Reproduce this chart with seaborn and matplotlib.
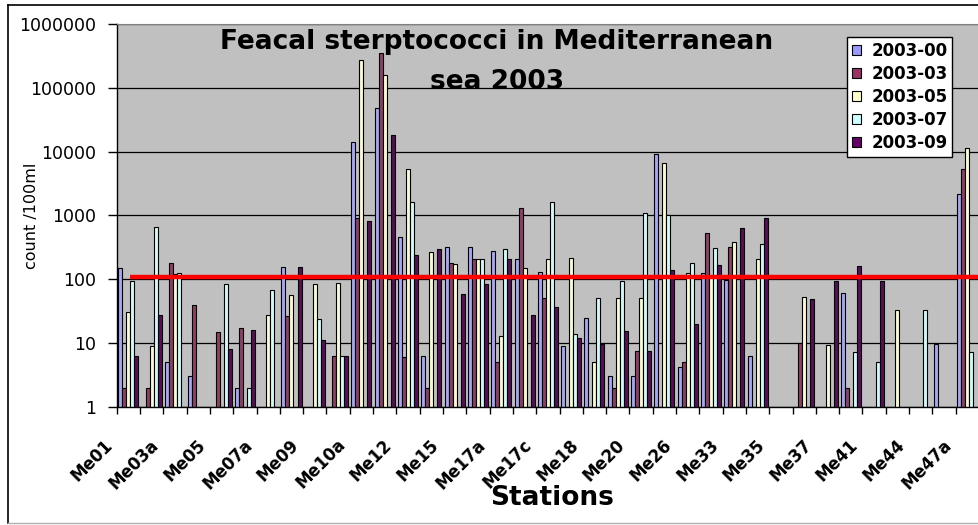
import numpy as np
import pandas as pd
import matplotlib
matplotlib.use('Agg')
import matplotlib.pyplot as plt
import matplotlib.transforms as mtransforms
from matplotlib.lines import Line2D
from matplotlib.patches import Patch
from matplotlib.ticker import NullLocator
import seaborn as sns

nan = np.nan

# Stations (only every other one is labelled on the axis)
stations = ['Me01', 'Me02', 'Me03a', 'Me04', 'Me05', 'Me06', 'Me07a', 'Me08', 'Me09', 'Me10',
            'Me10a', 'Me11', 'Me12', 'Me14', 'Me15', 'Me16', 'Me17a', 'Me17b', 'Me17c', 'Me17d',
            'Me18', 'Me19', 'Me20', 'Me25', 'Me26', 'Me31', 'Me33', 'Me34', 'Me35', 'Me36',
            'Me37', 'Me40', 'Me41', 'Me43', 'Me44', 'Me47', 'Me47a']

# counts /100ml per sampling campaign
s_00 = [150, nan, 5, 3, nan, 2, nan, 155, nan, nan,
        14000, 48000, 450, 6.2, 320, 320, 280, 205, 130, 9,
        25, 3, 3, 9300, 4.2, 123, 97, 6.3, nan, nan,
        nan, 61, nan, nan, nan, 9.5, 2150]
s_03 = [2, 2, 180, 40, 15, 17, nan, 26, nan, 6.3,
        900, 350000, 6, 2, 180, 205, 5, 1300, 50, nan,
        nan, 2, 7.4, nan, 5, 520, 320, nan, nan, 10,
        nan, 2, nan, nan, nan, nan, 5300]
s_05 = [30, 9, 120, nan, nan, nan, 27, 57, 83, 88,
        270000, 160000, 5400, 265, 170, 205, 13, 150, 210, 215,
        5, 50, 50, 6700, 125, 110, 385, 205, nan, 53,
        9.3, nan, nan, 33, nan, nan, 11500]
s_07 = [95, 650, 125, nan, 85, 2, 68, nan, 24, 6.3,
        nan, nan, 1600, nan, nan, 205, 300, nan, 1600, 14,
        50, 94, 1100, 1000, 180, 310, nan, 355, nan, nan,
        nan, 7.2, 5, nan, 33, nan, 7.3]
s_09 = [6.3, 27, nan, nan, 8, 16, nan, 155, 11, 6.3,
        820, 18000, 240, 300, 58, 83, 210, 27, 36, 12,
        9.5, 15.5, 7.5, 140, 20, 165, 640, 900, nan, 49,
        94, 162, 94, nan, nan, nan, nan]

months = ['2003-00', '2003-03', '2003-05', '2003-07', '2003-09']
colors = ['#9999FF', '#993366', '#FFFFCC', '#CCFFFF', '#660066']
threshold = 110

df = pd.DataFrame({'Station': stations, months[0]: s_00, months[1]: s_03,
                   months[2]: s_05, months[3]: s_07, months[4]: s_09})
long_df = df.melt(id_vars='Station', var_name='Month', value_name='Count').dropna()

fig = plt.figure(figsize=(9.79, 5.25), dpi=100)
ax = fig.add_axes([0.1192, 0.2253, 0.8808, 0.729])
ax.set_facecolor('#C0C0C0')

sns.barplot(data=long_df, x='Station', y='Count', hue='Month', order=stations,
            hue_order=months, palette=colors, width=0.86, gap=0, errorbar=None,
            edgecolor='black', linewidth=0.8, log_scale=True, ax=ax, zorder=2)

n = len(stations)
ax.set_yscale('log')
ax.set_ylim(1, 1e6)
ax.set_xlim(-0.5, 36.13)

# y axis
yt = [1, 10, 100, 1000, 10000, 100000, 1000000]
ax.set_yticks(yt, [str(v) for v in yt])
ax.yaxis.set_minor_locator(NullLocator())
ax.tick_params(axis='y', length=6.5, width=1, pad=8, labelsize=12.5, color='black')
ax.yaxis.grid(True, color='black', lw=0.9, zorder=1)
ax.xaxis.grid(False)
ax.set_axisbelow(True)

# x axis: ticks between categories, labels on every other station
ax.set_xticks(np.arange(0, n, 2), [stations[i] for i in range(0, n, 2)])
ax.set_xticks(np.arange(-0.5, n, 1), minor=True)
ax.tick_params(axis='x', which='major', length=0, pad=0)
ax.tick_params(axis='x', which='minor', length=5, width=1, direction='out')
offset = mtransforms.ScaledTranslation(-0.25, -0.29, fig.dpi_scale_trans)
for lab in ax.get_xticklabels():
    lab.set_rotation(45)
    lab.set_ha('right')
    lab.set_va('top')
    lab.set_rotation_mode('anchor')
    lab.set_fontsize(12)
    lab.set_fontweight('bold')
    lab.set_transform(lab.get_transform() + offset)

for side in ['left', 'bottom']:
    ax.spines[side].set_color('black')
    ax.spines[side].set_linewidth(1)
ax.spines['top'].set_color('#808080')
ax.spines['right'].set_visible(False)

# threshold line
ax.hlines(threshold, 0.06, 37, color='red', lw=3.2, zorder=5)

# title inside plot area
ax.text(0.441, 0.953, 'Feacal sterptococci in Mediterranean', transform=ax.transAxes,
        ha='center', va='center', fontsize=19, fontweight='bold', zorder=6)
ax.text(0.441, 0.848, 'sea 2003', transform=ax.transAxes,
        ha='center', va='center', fontsize=19, fontweight='bold', zorder=6)

ax.set_ylabel('count /100ml', fontsize=11.5)
ax.yaxis.set_label_coords(-0.09, 0.498)
ax.set_xlabel('Stations', fontsize=19, fontweight='bold')
ax.xaxis.set_label_coords(0.505, -0.205)

handles = [Patch(facecolor=c, edgecolor='black', lw=0.8) for c in colors]
leg = ax.legend(handles, months, loc='upper left', bbox_to_anchor=(0.847, 0.966),
                frameon=True, fancybox=False, framealpha=1, edgecolor='black',
                facecolor='white', prop={'size': 12, 'weight': 'bold'},
                handlelength=0.55, handleheight=0.55, handletextpad=0.6,
                labelspacing=0.3, borderpad=0.3, borderaxespad=0)
leg.get_frame().set_linewidth(1)
leg.set_zorder(7)

# outer chart frame
fig.add_artist(Line2D([0.0082, 0.0082], [0.004, 0.9905], transform=fig.transFigure, color='black', lw=1.2))
fig.add_artist(Line2D([0.0082, 1.0], [0.9905, 0.9905], transform=fig.transFigure, color='black', lw=1.2))
fig.add_artist(Line2D([0.0082, 1.0], [0.004, 0.004], transform=fig.transFigure, color='#B0B0B0', lw=1))

fig.savefig('out.png', dpi=100, facecolor='white')
